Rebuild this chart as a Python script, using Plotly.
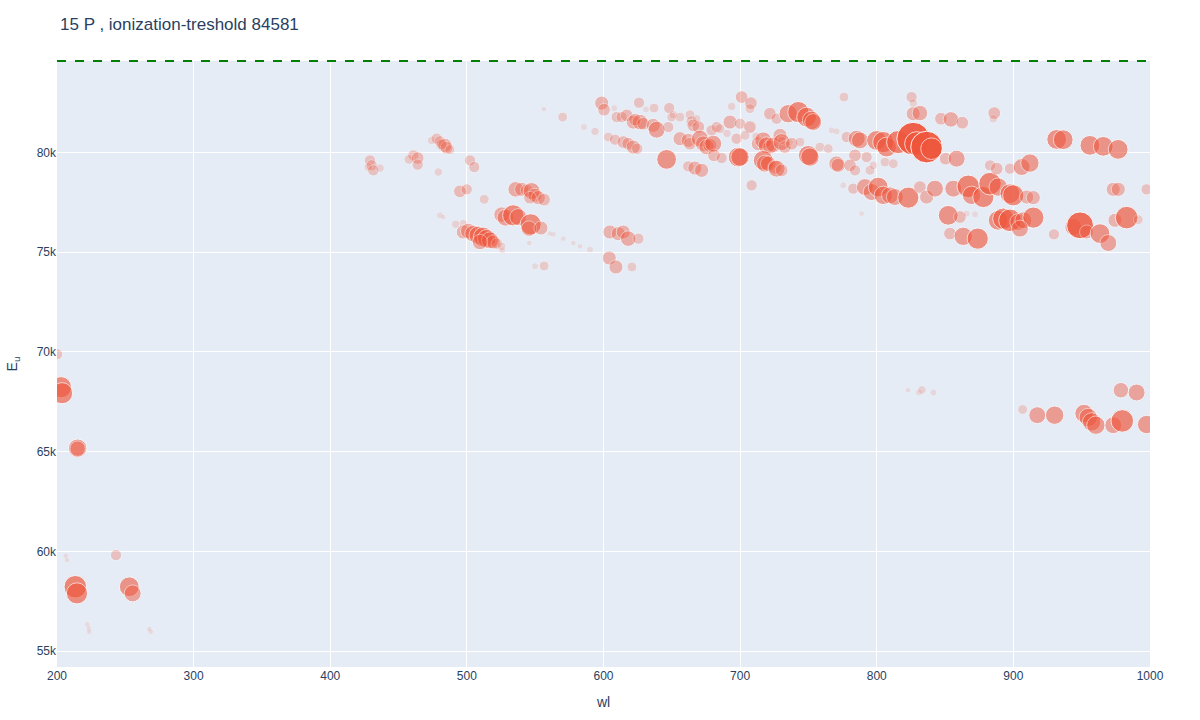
import numpy as np
import plotly.graph_objects as go

# 15 P lines: wavelength (nm), upper level energy (cm-1), relative intensity
element = "15 P"
ion_threshold = 84581

wl = [
    200.0, 202.9, 203.7, 215.1, 215.1, 206.4, 207.3, 243.2, 213.4, 214.6,
    252.9, 255.4, 222.2, 223.2, 223.6, 267.6, 268.6,
    822.8, 830.9, 833.1, 841.4, 906.8, 917.5, 930.2, 951.7, 954.8, 957.3,
    960.4, 973.1, 979.7, 978.7, 990.2, 997.5,
    429.1, 430.3, 431.5, 427.8, 436.4, 460.8, 464.0, 464.0, 457.6, 474.2,
    477.9, 480.3, 483.9, 485.2, 481.5, 487.6, 502.3, 505.4, 479.1, 494.9,
    499.9, 512.7, 480.3, 482.7, 491.8, 497.4, 497.4, 501.0, 504.7, 508.3,
    512.0, 514.5, 516.9, 519.3, 521.8, 525.4, 525.9, 509.6, 535.7, 540.1,
    543.8, 547.4, 549.9, 552.3, 556.5, 546.2, 525.4, 528.3, 533.9, 537.6,
    546.7, 545.5, 554.2, 545.7, 560.8, 563.3, 570.6, 577.9, 582.8, 590.1,
    549.9, 556.5, 604.2, 609.1, 620.8, 604.7, 610.8, 614.5, 618.1, 625.5,
    556.4, 570.1, 585.7, 593.8,
    598.7, 600.4, 607.9, 609.6, 613.3, 617.0, 621.8, 626.7, 623.0, 629.1,
    636.4, 638.9, 603.5, 608.4, 614.5, 618.1, 621.8, 624.7, 626.0, 631.1,
    637.0, 646.2, 648.1, 649.9, 651.1, 656.0, 663.3, 664.5, 665.7, 669.4,
    668.2, 647.4, 656.0, 662.0, 663.3, 670.6, 673.0, 675.5, 677.9, 680.3,
    662.0, 666.9, 671.8, 679.1, 682.8, 685.2, 692.6, 699.9, 701.1, 707.9,
    707.2, 693.8, 680.9, 686.5, 698.6, 699.9, 697.4, 707.2,
    713.3, 716.9, 719.4, 721.8, 724.3, 729.2, 730.4, 732.8, 737.7, 743.8,
    716.9, 718.2, 720.6, 725.5, 726.7, 730.4, 708.4, 721.8, 726.7, 735.2,
    742.6, 748.7, 752.3, 753.5, 749.9, 751.1, 758.4, 764.5, 770.6, 771.8,
    776.0, 767.0, 770.6, 778.0, 785.3, 787.7, 784.1, 780.4, 784.1, 792.6,
    795.0, 775.5, 782.8, 791.4, 796.3, 801.1, 804.8, 809.7, 813.3, 797.5,
    806.0, 812.1, 823.1, 788.9, 730.6, 736.5, 690.4, 703.6, 711.6,
    799.9, 804.8, 807.2, 815.7, 826.7, 829.2, 836.5, 840.1, 826.7, 831.6,
    825.5, 826.7, 847.0, 854.3, 862.6, 886.0, 885.3, 850.4, 858.5, 931.7,
    936.5, 956.0, 965.8, 976.7, 831.6, 836.5, 842.6, 852.3, 860.9, 853.6,
    863.3, 873.9, 856.0, 867.0, 869.4, 878.0, 882.9, 888.9, 897.5, 899.9,
    909.7, 914.6, 882.9, 887.8, 897.5, 906.1, 912.1, 865.8, 871.9, 888.9,
    892.6, 897.5, 903.6, 907.3, 914.6, 904.8, 929.7, 943.9, 948.8, 953.6,
    963.4, 969.5, 973.1, 976.8, 997.5, 974.4, 982.9, 991.4,
]

e_upper = [
    69880, 68226, 67926, 65170, 65145, 59775, 59560, 59810, 58222, 57890,
    58222, 57890, 56338, 56138, 55967, 56100, 55967,
    68076, 67961, 68091, 67961, 67109, 66824, 66824, 66909, 66709, 66488,
    66323, 66323, 66538, 68076, 67961, 66358,
    79599, 79349, 79098, 79264, 79213, 79850, 79714, 79384, 79649, 80601,
    80686, 80551, 80351, 80235, 80401, 80135, 79599, 79264, 79013, 78046,
    78146, 77645, 76844, 76759, 76393, 76428, 76007, 76057, 75927, 75842,
    75757, 75676, 75591, 75506, 75426, 75291, 75090, 75506, 78146, 78146,
    78096, 78061, 77846, 77730, 77630, 77730, 76879, 76728, 76844, 76759,
    76393, 76177, 76207, 75456, 75927, 75892, 75676, 75456, 75291, 75125,
    74289, 74304, 74704, 74254, 74254, 76007, 75927, 76007, 75676, 75676,
    82169, 81769, 81268, 81052,
    82470, 82139, 82219, 81768, 81768, 81854, 81518, 81518, 81638, 81438,
    81353, 81137, 80767, 80636, 80516, 80436, 80266, 80185, 82490, 82154,
    82219, 79649, 82219, 81768, 81889, 81768, 81889, 81553, 81353, 81268,
    81688, 81268, 80686, 80601, 80436, 80686, 80436, 80266, 80351, 80436,
    79299, 79213, 79098, 81102, 81268, 81187, 81518, 81438, 82771, 82470,
    82189, 82305, 79850, 79714, 79765, 79765, 80686, 81268,
    80436, 80601, 80351, 80266, 80386, 80852, 80516, 80266, 80436, 80516,
    79599, 79434, 79434, 79264, 79183, 79098, 78347, 81939, 81688, 81939,
    82019, 81768, 81603, 81518, 79850, 79765, 80266, 80185, 79434, 79349,
    82771, 81102, 81052, 80767, 80686, 80601, 79850, 79349, 79098, 79765,
    79098, 78347, 78181, 78261, 78011, 78261, 77846, 77846, 77761, 79349,
    79514, 79434, 77731, 76929, 80601, 80501, 80952, 80852, 80802,
    80601, 80516, 80266, 80516, 80686, 80436, 80266, 80185, 81939, 81969,
    82771, 82470, 81688, 81653, 81488, 81969, 81688, 79684, 79684, 80651,
    80636, 80351, 80301, 80150, 78261, 77761, 78181, 76844, 76759, 75927,
    75792, 75676, 78181, 78297, 77846, 77761, 78432, 78261, 77931, 77846,
    77761, 77731, 79349, 79183, 79183, 79264, 79464, 76929, 76894, 76593,
    76678, 76593, 76508, 76593, 76729, 76177, 75892, 76258, 76343, 76007,
    75927, 75456, 78146, 78146, 78146, 76593, 76729, 76628,
]

rel_int = [
    71, 250, 250, 188, 134, 18, 18, 71, 284, 250,
    218, 160, 18, 18, 18, 18, 18,
    18, 28, 40, 28, 54, 160, 188, 188, 188, 188,
    188, 160, 284, 134, 160, 188,
    71, 71, 71, 40, 40, 71, 90, 71, 54, 40,
    71, 71, 111, 90, 71, 54, 71, 71, 40, 90,
    71, 54, 28, 18, 40, 40, 111, 134, 160, 188,
    218, 188, 160, 111, 71, 40, 28, 134, 134, 111,
    90, 160, 111, 111, 90, 90, 134, 160, 250, 160,
    250, 134, 111, 18, 18, 18, 18, 18, 18, 28,
    28, 54, 111, 111, 54, 111, 111, 111, 134, 71,
    18, 54, 28, 40,
    111, 90, 28, 71, 71, 90, 111, 134, 90, 90,
    111, 160, 54, 71, 90, 90, 111, 71, 71, 28,
    54, 218, 71, 54, 40, 54, 54, 71, 90, 90,
    40, 71, 111, 111, 90, 160, 134, 134, 111, 160,
    71, 111, 111, 71, 71, 54, 111, 71, 90, 90,
    54, 40, 90, 71, 218, 188, 71, 90,
    111, 160, 160, 111, 134, 111, 160, 90, 90, 54,
    218, 160, 134, 111, 160, 90, 71, 90, 71, 188,
    250, 218, 188, 160, 218, 188, 54, 54, 134, 111,
    54, 28, 28, 71, 160, 160, 90, 90, 71, 71,
    54, 28, 71, 160, 160, 218, 188, 160, 160, 40,
    54, 54, 250, 18, 40, 28, 40, 54, 40,
    218, 250, 218, 300, 600, 320, 560, 260, 111, 134,
    71, 40, 90, 134, 90, 90, 40, 90, 160, 218,
    218, 218, 218, 218, 90, 111, 160, 218, 90, 90,
    188, 250, 160, 284, 188, 250, 284, 188, 218, 250,
    111, 111, 71, 90, 71, 160, 188, 28, 28, 218,
    250, 284, 160, 160, 250, 160, 71, 160, 400, 111,
    218, 160, 111, 111, 71, 111, 284, 54,
]

rel = np.array(rel_int, dtype=float)
diam = 30 * np.sqrt(rel / 1000.0)
opac = np.clip(0.05 * diam - 0.12, 0.12, 0.92)

fig = go.Figure()
fig.add_trace(go.Scatter(
    x=wl, y=e_upper, mode="markers",
    marker=dict(size=rel, sizemode="area", sizeref=1000.0 / 30 ** 2,
                color="#EF553B", opacity=opac,
                line=dict(width=1, color="white")),
    showlegend=False,
))

# threshold line sits on the top edge of the y range (range top = threshold)
fig.add_shape(type="line", xref="paper", yref="paper", x0=0, x1=1, y0=1, y1=1,
              line=dict(color="green", width=2, dash="dash"))

fig.update_layout(
    template="plotly",
    width=1200, height=720,
    font=dict(family="Arial"),
    title=dict(text=f"{element} , ionization-treshold {ion_threshold}",
               x=0.05, y=0.967, yanchor="middle"),
    margin=dict(l=57, r=50, t=61, b=53),
    xaxis=dict(title="wl", range=[200, 1000], automargin=False),
    yaxis=dict(title="E<sub>u</sub>", range=[54200, ion_threshold], automargin=False),
)

fig.write_html("out.html", config={"displayModeBar": False},
               post_script="document.body.style.margin='0';")
